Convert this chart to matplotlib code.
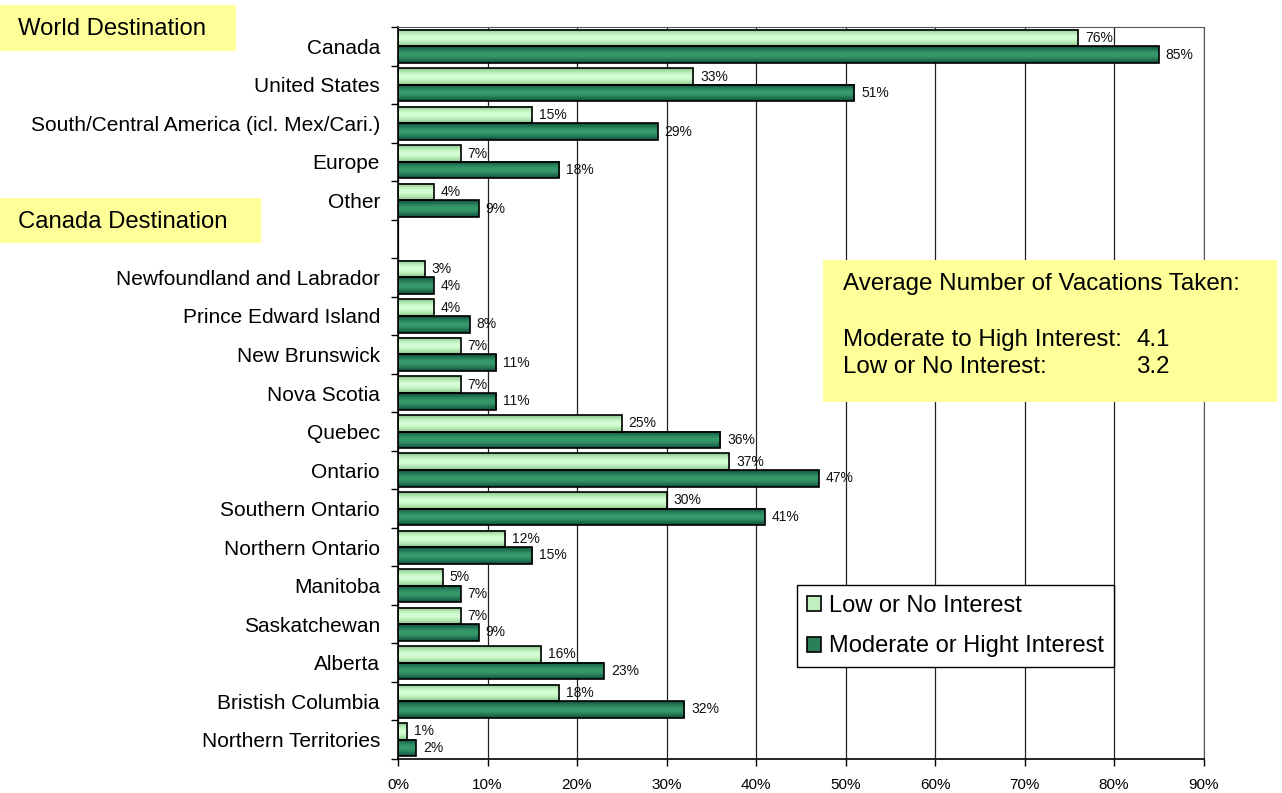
import numpy as np
import matplotlib.pyplot as plt
from matplotlib.patches import Patch, Rectangle
from matplotlib.colors import to_rgb

plt.rcParams['font.family'] = ['Liberation Sans', 'DejaVu Sans']

world = ['Canada', 'United States', 'South/Central America (icl. Mex/Cari.)',
         'Europe', 'Other']
world_low = [76, 33, 15, 7, 4]
world_high = [85, 51, 29, 18, 9]

provinces = ['Newfoundland and Labrador', 'Prince Edward Island', 'New Brunswick',
             'Nova Scotia', 'Quebec', 'Ontario', 'Southern Ontario',
             'Northern Ontario', 'Manitoba', 'Saskatchewan', 'Alberta',
             'Bristish Columbia', 'Northern Territories']
prov_low = [3, 4, 7, 7, 25, 37, 30, 12, 5, 7, 16, 18, 1]
prov_high = [4, 8, 11, 11, 36, 47, 41, 15, 7, 9, 23, 32, 2]

series_names = ['Low or No Interest', 'Moderate or Hight Interest']
xticks = np.arange(0, 91, 10)

# one empty row between the two groups
labels = world + provinces
low = world_low + prov_low
high = world_high + prov_high
ypos = list(range(len(world))) + list(range(len(world) + 1, len(world) + 1 + len(provinces)))
nrows = len(world) + 1 + len(provinces)

W, H = 1282, 793
fig = plt.figure(figsize=(W / 100, H / 100), dpi=100)
ax = fig.add_axes([398 / W, 1 - 759 / H, 805.5 / W, 732 / H])

light_edge, light_mid = to_rgb('#8cc88c'), to_rgb('#d4ffd4')
dark_edge, dark_mid = to_rgb('#10503a'), to_rgb('#36996c')
legend_light, legend_dark = '#c0f0c0', '#2a8058'


def shade(edge, mid, n=40):
    t = np.linspace(0, 1, n)
    w = np.sin(np.pi * t) ** 1.2
    col = np.array(edge)[None, :] * (1 - w[:, None]) + np.array(mid)[None, :] * w[:, None]
    return col[:, None, :]


bh = 0.43
light_img = shade(light_edge, light_mid)
dark_img = shade(dark_edge, dark_mid)

for y, lo, hi in zip(ypos, low, high):
    for val, yc, img in ((lo, y - bh / 2, light_img), (hi, y + bh / 2, dark_img)):
        ax.imshow(img, extent=[0, val, yc + bh / 2, yc - bh / 2], aspect='auto',
                  interpolation='bilinear', zorder=2)
        ax.barh(yc, val, height=bh, facecolor='none', edgecolor='black',
                linewidth=1.2, zorder=3)
        ax.annotate(f'{val}%', (val, yc), xytext=(5, 0), textcoords='offset points',
                    va='center', ha='left', fontsize=10, color='#111111', zorder=4)

ax.set_xlim(0, 90)
ax.set_ylim(nrows - 0.5, -0.5)
ax.set_xticks(xticks)
ax.set_xticklabels([f'{v}%' for v in xticks], fontsize=11)
ax.set_yticks(ypos)
ax.set_yticklabels(labels, fontsize=15)
ax.set_yticks(np.arange(nrows + 1) - 0.5, minor=True)
ax.tick_params(axis='y', which='major', length=0, pad=13)
ax.tick_params(axis='y', which='minor', length=5, width=1, direction='out')
ax.tick_params(axis='x', length=5, width=1, direction='out', pad=9)
ax.xaxis.grid(True, color='#222222', linewidth=0.9, zorder=0)
ax.set_axisbelow(True)
for side in ('top', 'right'):
    ax.spines[side].set_color('#555555')
for side in ('left', 'bottom'):
    ax.spines[side].set_color('black')
    ax.spines[side].set_linewidth(1.2)

handles = [Patch(facecolor=legend_light, edgecolor='black', linewidth=1.2),
           Patch(facecolor=legend_dark, edgecolor='black', linewidth=1.2)]
leg = ax.legend(handles, series_names, loc='upper left',
                bbox_to_anchor=(797 / W, 1 - 585 / H), bbox_transform=fig.transFigure,
                fontsize=17, frameon=True, fancybox=False, edgecolor='black',
                framealpha=1, borderaxespad=0, borderpad=0.42, handlelength=0.6,
                handleheight=0.6, handletextpad=0.35, labelspacing=0.78)
leg.get_frame().set_linewidth(1.0)
leg.set_zorder(5)


def fx(x):
    return x / W


def fy(y):
    return 1 - y / H


# yellow group headers
for x0, y0, x1, y1, text in ((0, 5, 236, 51, 'World Destination'),
                             (0, 198, 261, 243, 'Canada Destination')):
    fig.add_artist(Rectangle((fx(x0), fy(y1)), fx(x1 - x0), (y1 - y0) / H,
                             transform=fig.transFigure, facecolor='#ffff99',
                             edgecolor='none', zorder=1))
    fig.text(fx(18), fy((y0 + y1) / 2 + 1), text, fontsize=17.2, va='center', ha='left')

# summary box
fig.add_artist(Rectangle((fx(823), fy(402)), fx(1277 - 823), (402 - 260) / H,
                         transform=fig.transFigure, facecolor='#ffff99',
                         edgecolor='none', zorder=6))
fig.text(fx(843), fy(284), 'Average Number of Vacations Taken:', fontsize=17.4,
         va='center', ha='left', zorder=7)
fig.text(fx(843), fy(340), 'Moderate to High Interest:', fontsize=17.4,
         va='center', ha='left', zorder=7)
fig.text(fx(1170), fy(340), '4.1', fontsize=17.4, va='center', ha='right', zorder=7)
fig.text(fx(843), fy(367), 'Low or No Interest:', fontsize=17.4,
         va='center', ha='left', zorder=7)
fig.text(fx(1170), fy(367), '3.2', fontsize=17.4, va='center', ha='right', zorder=7)

fig.savefig('out.png', dpi=100)
